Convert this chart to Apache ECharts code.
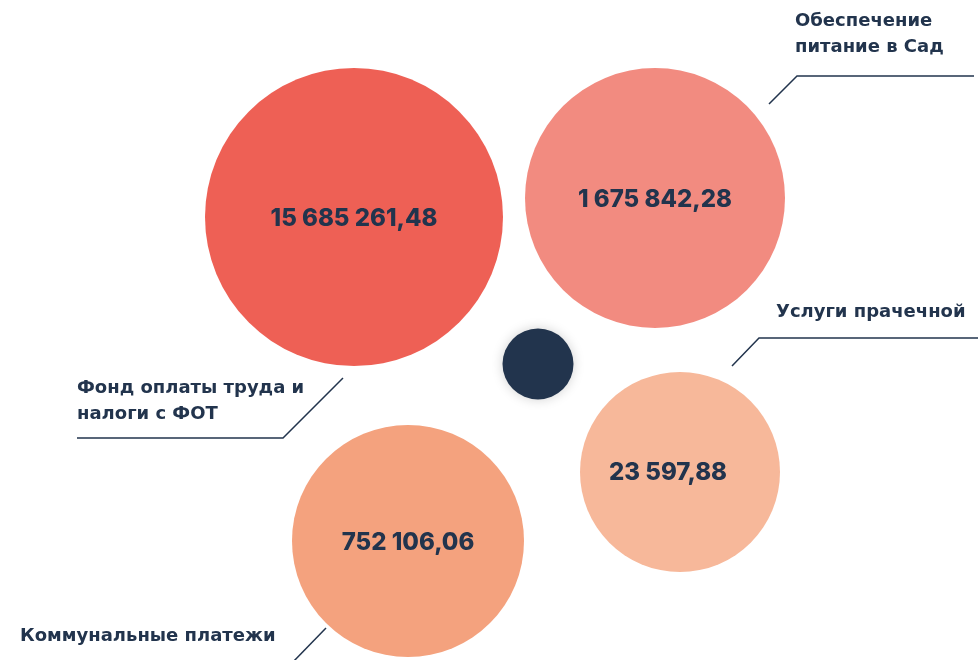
<!DOCTYPE html>
<html><head><meta charset="utf-8">
<script src="https://cdn.jsdelivr.net/npm/echarts@6/dist/echarts.min.js"></script>
<style>html,body{margin:0;padding:0;background:#fff}#c{width:978px;height:660px}</style>
</head><body><div id="c"></div>
<script>
// Data
const categories = ['Фонд оплаты труда и\nналоги с ФОТ', 'Обеспечение\nпитание в Сад', 'Услуги прачечной', 'Коммунальные платежи'];
const values = [15685261.48, 1675842.28, 23597.88, 752106.06];
const valueLabels = ['15 685 261,48', '1 675 842,28', '23 597,88', '752 106,06'];
// bubble layout (chart coordinates)
const bubbleX = [354, 655, 680, 408, 538];
const bubbleY = [217, 198, 472, 541, 364];
const bubbleDiameter = [298, 260, 200, 232, 71];
const bubbleColors = ['#EE6055', '#F28B80', '#F7B89A', '#F4A27E', '#22344D'];
const labelX = [77, 795, 776, 20];
const labelY = [375, 8, 299, 623];
const leaderLines = [
  [[77, 438], [283, 438], [343, 378]],
  [[769, 104], [797, 76], [974, 76]],
  [[732, 366], [759, 338], [980, 338]],
  [[326, 628], [292, 663]]
];
const dark = '#22344D';
const valueFont = 'Inter, "Noto Sans", sans-serif';
const nameFont = '"DejaVu Sans", Inter, sans-serif';

const bubbleData = bubbleX.map((x, i) => ({
  value: [x, bubbleY[i]],
  symbolSize: bubbleDiameter[i],
  itemStyle: i === 4 ? {color: bubbleColors[i], opacity: 1, shadowBlur: 12, shadowColor: 'rgba(0,0,0,0.18)'} : {color: bubbleColors[i], opacity: 1},
  label: i < 4 ? {show: true, formatter: valueLabels[i], offset: i === 2 ? [-12, 1] : [0, 2]} : {show: false}
}));

const chart = echarts.init(document.getElementById('c'), null, {renderer: 'canvas'});
chart.setOption({
  animation: false,
  backgroundColor: '#fff',
  grid: {left: 0, right: 0, top: 0, bottom: 0},
  xAxis: {type: 'value', min: 0, max: 978, show: false},
  yAxis: {type: 'value', min: 0, max: 660, inverse: true, show: false},
  series: [
    {
      type: 'lines', coordinateSystem: 'cartesian2d', polyline: true, silent: true,
      lineStyle: {color: dark, width: 1.5, opacity: 1},
      data: leaderLines.map(c => ({coords: c}))
    },
    {
      type: 'scatter', silent: true,
      itemStyle: {opacity: 1},
      label: {position: 'inside', color: dark, fontFamily: valueFont, fontSize: 24, fontWeight: 800},
      data: bubbleData
    },
    {
      type: 'scatter', silent: true, symbolSize: 0,
      itemStyle: {opacity: 1},
      label: {show: true, position: [0, 0], align: 'left', verticalAlign: 'top',
        color: dark, fontFamily: nameFont, fontSize: 18, fontWeight: 'bold', lineHeight: 26,
        formatter: p => categories[p.dataIndex]},
      data: labelX.map((x, i) => [x, labelY[i]])
    }
  ]
});
</script></body></html>
